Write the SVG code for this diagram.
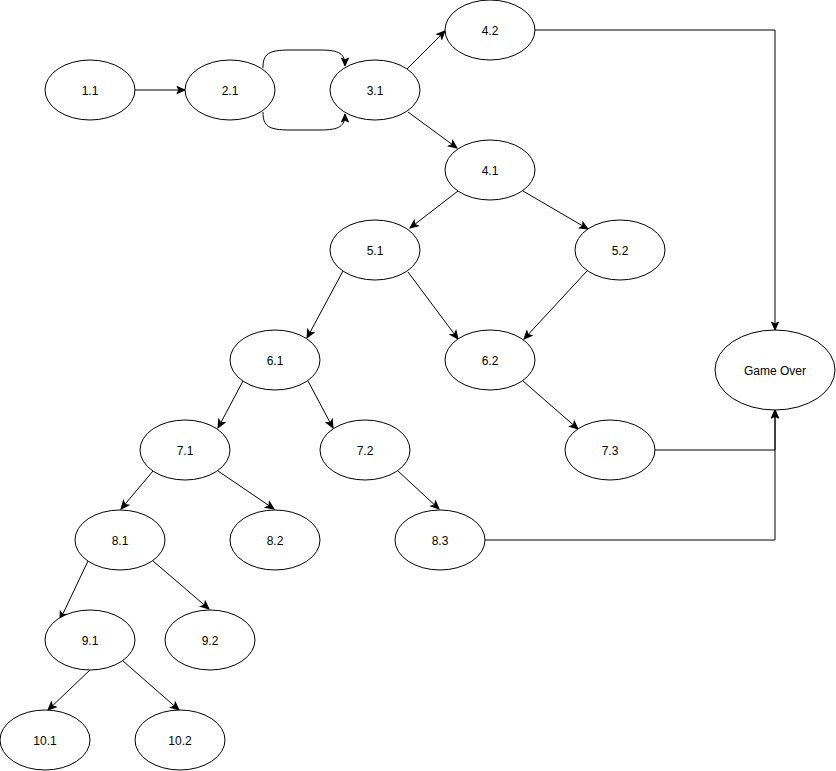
<svg xmlns="http://www.w3.org/2000/svg" width="836" height="771" viewBox="0 0 836 771">
<defs>
<marker id="arr" markerWidth="10" markerHeight="10" refX="9" refY="5" orient="auto" markerUnits="userSpaceOnUse">
<path d="M1,1.5 L9,5 L1,8.5 L3,5 Z" fill="#000" stroke="#000" stroke-width="1"/>
</marker>
</defs>
<style>
.n ellipse{fill:#fff;stroke:#000;stroke-width:1}
.n text{font-family:"Liberation Sans",Arial,sans-serif;font-size:12px;fill:#000;text-anchor:middle}
.e path{fill:none;stroke:#000;stroke-width:1;marker-end:url(#arr)}
</style>
<rect width="836" height="771" fill="#fff"/>
<g class="e" id="edges">
<path d="M135,90 L185,90"/>
<path d="M263,68 C263,54 268,50 290,50 L320,50 C340,50 345,54 345,66"/>
<path d="M263,112 C263,126 268,130 290,130 L320,130 C340,130 345,126 345,114"/>
<path d="M407,69 L445,31"/>
<path d="M408,112 L457,148"/>
<path d="M458,191 L410,228"/>
<path d="M523,191 L588,229"/>
<path d="M343,271 L307,338"/>
<path d="M408,272 L458,339"/>
<path d="M587,271 L524,339"/>
<path d="M243,381 L218,428"/>
<path d="M308,381 L333,428"/>
<path d="M523,381 L578,429"/>
<path d="M153,471 L121,509"/>
<path d="M218,471 L274,509"/>
<path d="M398,471 L439,509"/>
<path d="M88,561 L60,620"/>
<path d="M153,561 L209,609"/>
<path d="M90,670 L48,710"/>
<path d="M123,661 L179,710"/>
<path d="M535,30 L775,30 L775,330"/>
<path d="M655,450 L775,450 L775,410"/>
<path d="M485,540 L775,540 L775,410"/>
</g>
<g class="n" id="n1_1"><ellipse cx="90" cy="90" rx="45" ry="30"/><text x="90" y="95">1.1</text></g>
<g class="n" id="n2_1"><ellipse cx="230" cy="90" rx="45" ry="30"/><text x="230" y="95">2.1</text></g>
<g class="n" id="n3_1"><ellipse cx="375" cy="90" rx="45" ry="30"/><text x="375" y="95">3.1</text></g>
<g class="n" id="n4_2"><ellipse cx="490" cy="30" rx="45" ry="30"/><text x="490" y="35">4.2</text></g>
<g class="n" id="n4_1"><ellipse cx="490" cy="170" rx="45" ry="30"/><text x="490" y="175">4.1</text></g>
<g class="n" id="n5_1"><ellipse cx="375" cy="250" rx="45" ry="30"/><text x="375" y="255">5.1</text></g>
<g class="n" id="n5_2"><ellipse cx="620" cy="250" rx="45" ry="30"/><text x="620" y="255">5.2</text></g>
<g class="n" id="n6_1"><ellipse cx="275" cy="360" rx="45" ry="30"/><text x="275" y="365">6.1</text></g>
<g class="n" id="n6_2"><ellipse cx="490" cy="360" rx="45" ry="30"/><text x="490" y="365">6.2</text></g>
<g class="n" id="gameover"><ellipse cx="775" cy="370" rx="60" ry="40"/><text x="775" y="375">Game Over</text></g>
<g class="n" id="n7_1"><ellipse cx="185" cy="450" rx="45" ry="30"/><text x="185" y="455">7.1</text></g>
<g class="n" id="n7_2"><ellipse cx="365" cy="450" rx="45" ry="30"/><text x="365" y="455">7.2</text></g>
<g class="n" id="n7_3"><ellipse cx="610" cy="450" rx="45" ry="30"/><text x="610" y="455">7.3</text></g>
<g class="n" id="n8_1"><ellipse cx="120" cy="540" rx="45" ry="30"/><text x="120" y="545">8.1</text></g>
<g class="n" id="n8_2"><ellipse cx="275" cy="540" rx="45" ry="30"/><text x="275" y="545">8.2</text></g>
<g class="n" id="n8_3"><ellipse cx="440" cy="540" rx="45" ry="30"/><text x="440" y="545">8.3</text></g>
<g class="n" id="n9_1"><ellipse cx="90" cy="640" rx="45" ry="30"/><text x="90" y="645">9.1</text></g>
<g class="n" id="n9_2"><ellipse cx="210" cy="640" rx="45" ry="30"/><text x="210" y="645">9.2</text></g>
<g class="n" id="n10_1"><ellipse cx="45" cy="740" rx="45" ry="30"/><text x="45" y="745">10.1</text></g>
<g class="n" id="n10_2"><ellipse cx="180" cy="740" rx="45" ry="30"/><text x="180" y="745">10.2</text></g>
</svg>
